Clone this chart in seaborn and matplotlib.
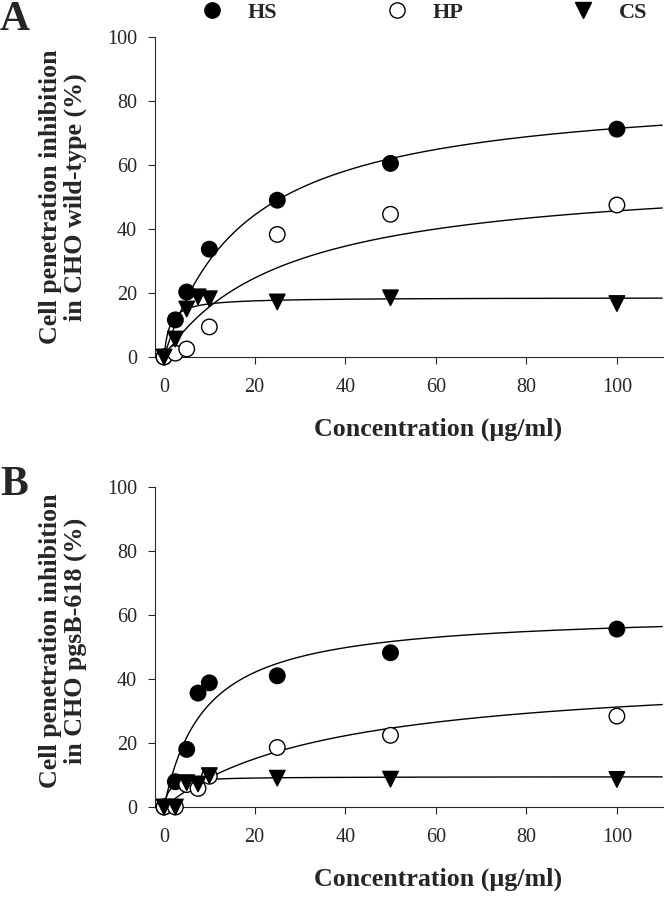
import numpy as np
import pandas as pd
import matplotlib

matplotlib.use('agg')
import matplotlib.pyplot as plt
import seaborn as sns
from matplotlib.lines import Line2D

# panel A - CHO wild-type, concentration (ug/ml) vs inhibition (%)
hs_a_x = [0, 2.5, 5, 10, 25, 50, 100]
hs_a_y = [0, 11.6, 20.3, 33.7, 49, 60.5, 71.2]
hp_a_x = [0, 2.5, 5, 10, 25, 50, 100]
hp_a_y = [0, 1.2, 2.5, 9.4, 38.3, 44.6, 47.5]
cs_a_x = [0, 2.5, 5, 7.5, 10, 25, 50, 100]
cs_a_y = [0, 5.6, 15, 18.8, 18.2, 17.2, 18.5, 16.7]

# panel B - CHO pgsB-618
hs_b_x = [0, 2.5, 5, 7.5, 10, 25, 50, 100]
hs_b_y = [0, 7.9, 18, 35.6, 38.8, 41, 48.2, 55.6]
hp_b_x = [0, 2.5, 5, 7.5, 10, 25, 50, 100]
hp_b_y = [0, 0, 7, 5.8, 9.6, 18.6, 22.4, 28.4]
cs_b_x = [0, 2.5, 5, 7.5, 10, 25, 50, 100]
cs_b_y = [0, 0, 7.6, 7.2, 9.8, 9, 8.7, 8.6]

# hyperbolic fit parameters (Bmax, Kd) as drawn
fit_a = {'HS': (84.3, 18.0), 'HP': (58.0, 27.0), 'CS': (18.6, 1.2)}
fit_b = {'HS': (61.0, 9.0), 'HP': (42.7, 36.7), 'CS': (9.5, 1.0)}

series = ['HS', 'HP', 'CS']
face = {'HS': 'black', 'HP': 'white', 'CS': 'black'}
mark = {'HS': 'o', 'HP': 'o', 'CS': 'v'}

SERIF = 'Liberation Serif'


def points_df(xs, ys):
    frames = []
    for name, x, y in zip(series, xs, ys):
        frames.append(pd.DataFrame({'conc': x, 'inh': y, 'series': name}))
    return pd.concat(frames, ignore_index=True)


def curve_df(fit):
    xx = np.linspace(0, 110, 300)
    frames = []
    for name in series:
        bmax, kd = fit[name]
        frames.append(pd.DataFrame({'conc': xx, 'inh': bmax * xx / (kd + xx), 'series': name}))
    return pd.concat(frames, ignore_index=True)


sns.set_style('ticks')
plt.rcParams['font.family'] = SERIF

fig = plt.figure(figsize=(6.64, 8.99), dpi=100)
ax_a = fig.add_axes([155 / 664, 1 - 357 / 899, 509 / 664, 320 / 899])
ax_b = fig.add_axes([155 / 664, 1 - 807 / 899, 509 / 664, 320 / 899])

panels = [
    (ax_a, points_df([hs_a_x, hp_a_x, cs_a_x], [hs_a_y, hp_a_y, cs_a_y]), fit_a,
     'Cell penetration inhibition\nin CHO wild-type (%)', 0.5),
    (ax_b, points_df([hs_b_x, hp_b_x, cs_b_x], [hs_b_y, hp_b_y, cs_b_y]), fit_b,
     'Cell penetration inhibition\nin CHO pgsB-618 (%)', 0.52),
]

for ax, pts, fit, ylab, ycen in panels:
    sns.lineplot(data=curve_df(fit), x='conc', y='inh', units='series', estimator=None,
                 color='black', linewidth=1.0, ax=ax, legend=False)
    sns.scatterplot(data=pts, x='conc', y='inh', hue='series', style='series',
                    palette=face, markers=mark, s=125, edgecolor='black', linewidth=1.0,
                    ax=ax, legend=False, clip_on=False, zorder=3)
    ax.set_xlim(-2, 110.4)
    ax.set_ylim(0, 100)
    ax.set_xticks([0, 20, 40, 60, 80, 100])
    ax.set_yticks([0, 20, 40, 60, 80, 100])
    ax.tick_params(direction='out', length=5, width=0.8, labelsize=14.5)
    ax.tick_params(axis='x', pad=10)
    ax.tick_params(axis='y', pad=8)
    for lab in ax.get_xticklabels() + ax.get_yticklabels():
        lab.set_family(SERIF)
    for side in ['top', 'right']:
        ax.spines[side].set_visible(False)
    for side in ['left', 'bottom']:
        ax.spines[side].set_linewidth(0.8)
    ax.set_xlabel('Concentration (µg/ml)', fontsize=18.7, fontweight='bold', family=SERIF)
    ax.set_ylabel(ylab, fontsize=18.7, fontweight='bold', linespacing=1.12, family=SERIF)
    ax.xaxis.set_label_coords(0.557, -0.19)
    ax.xaxis.label.set_va('top')
    ax.yaxis.set_label_coords(-0.133, ycen)

fig.text(0.0, 1 - 30 / 899, 'A', fontsize=30, fontweight='bold', va='baseline', ha='left', family=SERIF)
fig.text(0.0, 1 - 495 / 899, 'B', fontsize=30, fontweight='bold', va='baseline', ha='left', family=SERIF)

handles = [Line2D([], [], linestyle='none', marker=mark[n], markersize=11,
                  markerfacecolor=face[n], markeredgecolor='black', markeredgewidth=1.0)
           for n in series]
fig.legend(handles, series, ncol=3, loc='center', bbox_to_anchor=(424 / 664, 1 - 13 / 899),
           frameon=False, handlelength=1.0, handletextpad=1.1, columnspacing=4.9,
           prop={'size': 16, 'weight': 'bold', 'family': SERIF})

fig.savefig('out.png', dpi=100)
